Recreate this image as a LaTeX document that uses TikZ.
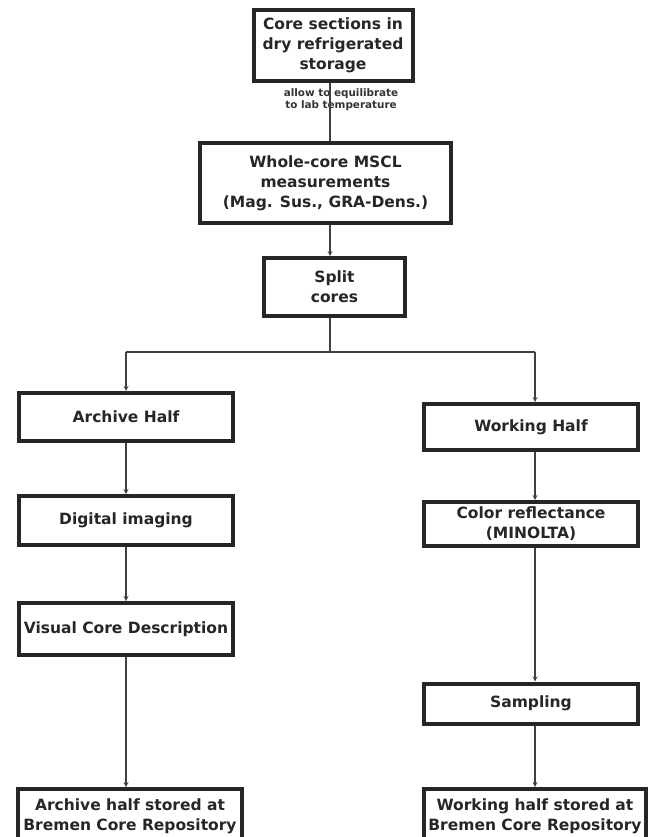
\documentclass[tikz,border=0pt]{standalone}
\usepackage{fontspec}
\setmainfont{DejaVu Sans}
\begin{document}
\begin{tikzpicture}[x=1pt,y=-1pt,
		box/.style={draw=black!85, line width=4pt, align=center, inner sep=0pt,
			text=black!85, font=\bfseries\fontsize{15.5}{20}\selectfont},
		link/.style={draw=black!75, line width=1.2pt},
		>=stealth ]
	\useasboundingbox (0,0) rectangle (652,837);
	\node [box, minimum width=159pt, minimum height=71pt] (storage) at (333,45.5) {Core sections in\\dry refrigerated\\storage};
	\node [box, minimum width=251pt, minimum height=80pt] (mscl) at (325.5,183) {Whole-core MSCL\\measurements\\(Mag. Sus., GRA-Dens.)};
	\node [box, minimum width=141pt, minimum height=58pt] (split) at (334.5,287) {Split\\cores};
	\node [align=center, text=black!80, font=\bfseries\fontsize{10.4}{12}\selectfont] (equil) at (341,100) {allow to equilibrate\\to lab temperature};
	\coordinate (axis) at (330,352);
	\coordinate (left) at (126,352);
	\coordinate (right) at (535,352);
	\node [box, minimum width=214pt, minimum height=48pt] (archive) at (126,417) {Archive Half};
	\node [box, minimum width=214pt, minimum height=49pt] (digital) at (126,520.5) {Digital imaging};
	\node [box, minimum width=214pt, minimum height=52pt] (visual) at (126,629) {Visual Core Description};
	\node [box, minimum width=224pt, minimum height=54pt] (archstore) at (130,816) {Archive half stored at\\Bremen Core Repository};
	\node [box, minimum width=214pt, minimum height=46pt] (working) at (531,427) {Working Half};
	\node [box, minimum width=214pt, minimum height=44pt] (color) at (531,524) {Color reflectance\\(MINOLTA)};
	\node [box, minimum width=214pt, minimum height=40pt] (sampling) at (531,703.5) {Sampling};
	\node [box, minimum width=222pt, minimum height=54pt] (workstore) at (535,816) {Working half stored at\\Bremen Core Repository};
	\draw [link] (storage.south -| axis) -- (mscl.north -| axis);
	\draw [link,->] (mscl.south -| axis) -- (split.north -| axis);
	\draw [link] (split.south -| axis) -- (axis);
	\draw [link] (left) -- (right);
	\draw [link,->] (left) -- (archive.north -| left);
	\draw [link,->] (right) -- (working.north -| right);
	\draw [link,->] (archive.south -| left) -- (digital.north -| left);
	\draw [link,->] (digital.south -| left) -- (visual.north -| left);
	\draw [link,->] (visual.south -| left) -- (archstore.north -| left);
	\draw [link,->] (working.south -| right) -- (color.north -| right);
	\draw [link,->] (color.south -| right) -- (sampling.north -| right);
	\draw [link,->] (sampling.south -| right) -- (workstore.north -| right);
\end{tikzpicture}
\end{document}
